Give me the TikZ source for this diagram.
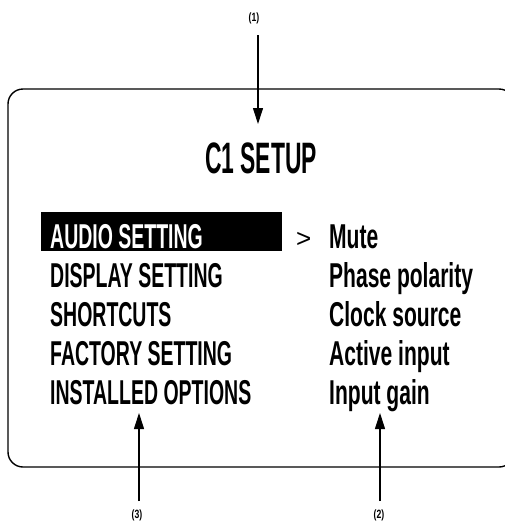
\documentclass[tikz,border=0pt]{standalone}
\usepackage{fontspec}
\setmainfont{Liberation Sans}
\newfontfamily\titlefont[FakeStretch=0.52]{Liberation Sans}
\newfontfamily\capsfont[FakeStretch=0.565]{Liberation Sans}
\newfontfamily\lowerfont[FakeStretch=0.61]{Liberation Sans}
\newfontfamily\tagfont[FakeStretch=0.72]{Liberation Sans}
\usetikzlibrary{arrows.meta}

\tikzset{
  screen/.style={draw=black, line width=1.4pt, rounded corners=15pt},
  callout/.style={draw=black, line width=1.1pt, -{Triangle[width=10pt,length=16pt]}},
  tag/.style={font=\tagfont\bfseries\fontsize{12}{12}\selectfont, inner sep=0pt},
  title/.style={font=\titlefont\bfseries\fontsize{44}{44}\selectfont, inner sep=0pt, anchor=base},
  menu/.style={font=\capsfont\bfseries\fontsize{34.5}{34.5}\selectfont, inner sep=0pt, anchor=base west},
  option/.style={font=\lowerfont\bfseries\fontsize{34.5}{34.5}\selectfont, inner sep=0pt, anchor=base west},
  highlight/.style={fill=black, draw=none}
}

\begin{document}
\begin{tikzpicture}[x=1pt, y=-1pt]
  \useasboundingbox (0,0) rectangle (505,523);
  \clip (0,0) rectangle (505,523);

  % display frame, open on the right
  \draw[screen] (8,89) rectangle (514,467);

  % title
  \node[title] (title) at (261,173) {C1 SETUP};

  % selected menu entry
  \fill[highlight] (41,212) rectangle (282,251);
  \node[menu, text=white] (m1) at (50,248) {AUDIO SETTING};
  \node[menu] (m2) at (50,287) {DISPLAY SETTING};
  \node[menu] (m3) at (50,326) {SHORTCUTS};
  \node[menu] (m4) at (50,365) {FACTORY SETTING};
  \node[menu] (m5) at (50,404) {INSTALLED OPTIONS};

  % sub-menu of the selected entry
  \node[option] (cursor) at (296,247) {\normalfont\fontsize{26}{26}\selectfont>};
  \node[option] (o1) at (329,248) {Mute};
  \node[option] (o2) at (329,287) {Phase polarity};
  \node[option] (o3) at (329,326) {Clock source};
  \node[option] (o4) at (329,365) {Active input};
  \node[option] (o5) at (329,404) {Input gain};

  % callout labels
  \node[tag] (t1) at (254,18) {(1)};
  \node[tag] (t3) at (137,515) {(3)};
  \node[tag] (t2) at (379,515) {(2)};

  % callout arrows
  \coordinate (s1) at (258,35);
  \coordinate (e1) at (258,124);
  \coordinate (s3) at (139,501);
  \coordinate (e3) at (139,413);
  \coordinate (s2) at (380,501);
  \coordinate (e2) at (380,413);
  \draw[callout] (s1) -- (e1);
  \draw[callout] (s3) -- (e3);
  \draw[callout] (s2) -- (e2);
\end{tikzpicture}
\end{document}
